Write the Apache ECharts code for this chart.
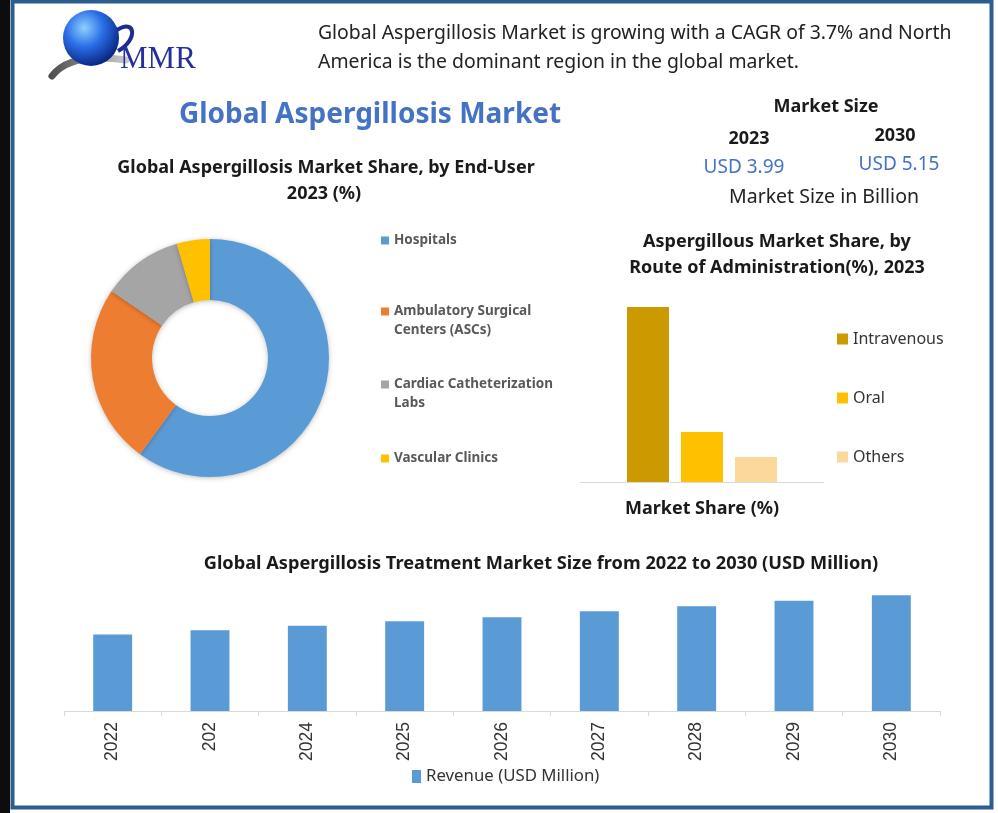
<!DOCTYPE html>
<html>
<head>
<meta charset="utf-8">
<script src="https://cdn.jsdelivr.net/npm/echarts@6/dist/echarts.min.js"></script>
<style>
html, body { margin: 0; padding: 0; background: #fff; }
#main { width: 998px; height: 813px; }
</style>
</head>
<body>
<div id="main"></div>
<script>
// 数据
var endUserNames = ['Hospitals', 'Ambulatory Surgical\nCenters (ASCs)', 'Cardiac Catheterization\nLabs', 'Vascular Clinics'];
var endUserShares = [60, 24.5, 11, 4.5];
var endUserColors = ['#5B9BD5', '#ED7D31', '#A5A5A5', '#FFC000'];

var routeNames = ['Intravenous', 'Oral', 'Others'];
var routeShares = [70, 20, 10];
var routeColors = ['#CC9900', '#FFC000', '#FBD89C'];

var revenueYears = ['2022', '202', '2024', '2025', '2026', '2027', '2028', '2029', '2030'];
var revenueValues = [3844, 3990, 4137, 4283, 4417, 4620, 4790, 4969, 5150];

var sizeYears = ['2023', '2030'];
var sizeValues = ['USD 3.99', 'USD 5.15'];

var calibri = '"Noto Sans", "Open Sans", sans-serif';
var arial = '"Liberation Sans", Arial, sans-serif';

function txt(x, y, text, size, opt) {
    opt = opt || {};
    return {
        type: 'text', x: x, y: y, z: 10,
        style: {
            text: text,
            fontFamily: opt.family || calibri,
            fontSize: size,
            fontWeight: opt.weight || 'normal',
            fill: opt.color || '#1a1a1a',
            align: opt.align || 'center',
            verticalAlign: 'middle'
        }
    };
}

// 饼图图例, 每项单独放 (两行的在前面加空行, 让方块对齐第一行)
var pieLegendTops = [231, 283, 356, 449];
var pieLegends = endUserNames.map(function (n, i) {
    return {
        data: [n],
        orient: 'vertical',
        left: 381,
        top: pieLegendTops[i],
        icon: 'rect',
        itemWidth: 8,
        itemHeight: 8,
        itemGap: 0,
        padding: 0,
        selectedMode: false,
        formatter: function (name) {
            return name.indexOf('\n') >= 0 ? '\n' + name : name;
        },
        textStyle: {
            fontFamily: calibri,
            fontSize: 13.5,
            fontWeight: 'bold',
            color: '#595959',
            lineHeight: 19
        }
    };
});

var option = {
    backgroundColor: '#fff',
    animation: false,
    graphic: [
        // 外框
        { type: 'rect', shape: { x: 0, y: 0, width: 10, height: 813 }, style: { fill: '#0d0d0d' } },
        { type: 'rect', shape: { x: 12.5, y: 1.5, width: 979, height: 806 }, style: { fill: 'none', stroke: '#2C5D8F', lineWidth: 4 } },
        // logo
        { type: 'bezierCurve', shape: { x1: 52, y1: 76, x2: 126, y2: 60, cpx1: 70, cpy1: 52 },
          style: { fill: 'none', lineWidth: 7, lineCap: 'round',
                   stroke: { type: 'linear', x: 0, y: 0, x2: 1, y2: 0, colorStops: [{ offset: 0, color: '#4a4a4a' }, { offset: 1, color: '#cfcfcf' }] } } },
        { type: 'circle', shape: { cx: 91, cy: 38, r: 28 },
          style: { fill: { type: 'radial', x: 0.38, y: 0.32, r: 0.75, colorStops: [{ offset: 0, color: '#8fd0ff' }, { offset: 0.45, color: '#2a6ee8' }, { offset: 1, color: '#061a70' }] } } },
        { type: 'bezierCurve', shape: { x1: 117, y1: 30, x2: 118, y2: 51, cpx1: 136, cpy1: 18, cpx2: 138, cpy2: 40 },
          style: { fill: 'none', stroke: '#1d2a8f', lineWidth: 4 } },
        txt(120, 60, 'MMR', 31, { family: '"Liberation Serif", serif', color: '#26309a', align: 'left' }),
        // 头部文字
        txt(318, 33, 'Global Aspergillosis Market is growing with a CAGR of 3.7% and North', 19.4, { align: 'left', color: '#222' }),
        txt(318, 62, 'America is the dominant region in the global market.', 19.4, { align: 'left', color: '#222' }),
        txt(370, 115, 'Global Aspergillosis Market', 28, { color: '#4472C4', weight: 'bold' }),
        txt(326, 168, 'Global Aspergillosis Market Share, by End-User', 18, { weight: 'bold' }),
        txt(324, 194, '2023 (%)', 18, { weight: 'bold' }),
        txt(826, 107, 'Market Size', 18, { weight: 'bold' }),
        txt(749, 139, sizeYears[0], 18, { weight: 'bold' }),
        txt(895, 136, sizeYears[1], 18, { weight: 'bold' }),
        txt(744, 168, sizeValues[0], 19, { color: '#4472C4' }),
        txt(899, 165, sizeValues[1], 19, { color: '#4472C4' }),
        txt(824, 197, 'Market Size in Billion', 19.5, { color: '#222' }),
        txt(777, 242, 'Aspergillous Market Share, by', 18, { weight: 'bold' }),
        txt(777, 268, 'Route of Administration(%), 2023', 18, { weight: 'bold' }),
        txt(541, 564, 'Global Aspergillosis Treatment Market Size from 2022 to 2030 (USD Million)', 18.2, { weight: 'bold' })
    ],
    legend: pieLegends.concat([
        {
            data: routeNames,
            orient: 'vertical',
            left: 837,
            top: 331,
            icon: 'rect',
            itemWidth: 11,
            itemHeight: 11,
            itemGap: 43,
            padding: 0,
            selectedMode: false,
            textStyle: { fontFamily: calibri, fontSize: 16, color: '#333' }
        },
        {
            data: ['Revenue (USD Million)'],
            left: 412,
            top: 768,
            icon: 'rect',
            itemWidth: 9,
            itemHeight: 13,
            padding: 0,
            selectedMode: false,
            textStyle: { fontFamily: calibri, fontSize: 16.8, color: '#333' }
        }
    ]),
    grid: [
        { left: 580, width: 244, top: 307, height: 175 },
        { left: 64, right: 58, top: 580, bottom: 102 }
    ],
    xAxis: [
        {
            gridIndex: 0,
            type: 'category',
            data: ['Market Share (%)'],
            axisLine: { lineStyle: { color: '#d9d9d9', width: 1 } },
            axisTick: { show: false },
            axisLabel: { margin: 18, fontFamily: calibri, fontSize: 18, fontWeight: 'bold', color: '#1a1a1a' }
        },
        {
            gridIndex: 1,
            type: 'category',
            data: revenueYears,
            axisLine: { lineStyle: { color: '#d9d9d9', width: 1 } },
            axisTick: { show: true, length: 5, lineStyle: { color: '#d9d9d9' } },
            axisLabel: { rotate: 90, margin: 11, fontFamily: arial, fontSize: 17.5, color: '#333', interval: 0 }
        }
    ],
    yAxis: [
        { gridIndex: 0, type: 'value', min: 0, max: 70, show: false },
        { gridIndex: 1, type: 'value', min: 1300, max: 5660, show: false }
    ],
    series: routeNames.map(function (n, i) {
        return {
            name: n,
            type: 'bar',
            xAxisIndex: 0,
            yAxisIndex: 0,
            barWidth: 42,
            barGap: '28.6%',
            itemStyle: { color: routeColors[i] },
            data: [routeShares[i]]
        };
    }).concat([
        {
            name: 'Revenue (USD Million)',
            type: 'bar',
            xAxisIndex: 1,
            yAxisIndex: 1,
            barWidth: '40%',
            itemStyle: { color: '#5B9BD5' },
            data: revenueValues
        },
        {
            name: 'End-User',
            type: 'pie',
            center: [210, 358],
            radius: [58, 119],
            startAngle: 90,
            clockwise: true,
            label: { show: false },
            labelLine: { show: false },
            itemStyle: { shadowBlur: 5, shadowColor: 'rgba(0,0,0,0.25)', shadowOffsetY: 1 },
            emphasis: { disabled: true },
            data: endUserNames.map(function (n, i) {
                return { name: n, value: endUserShares[i], itemStyle: { color: endUserColors[i] } };
            })
        }
    ])
};

var chartMain = echarts.init(document.getElementById('main'));
chartMain.setOption(option);
</script>
</body>
</html>
